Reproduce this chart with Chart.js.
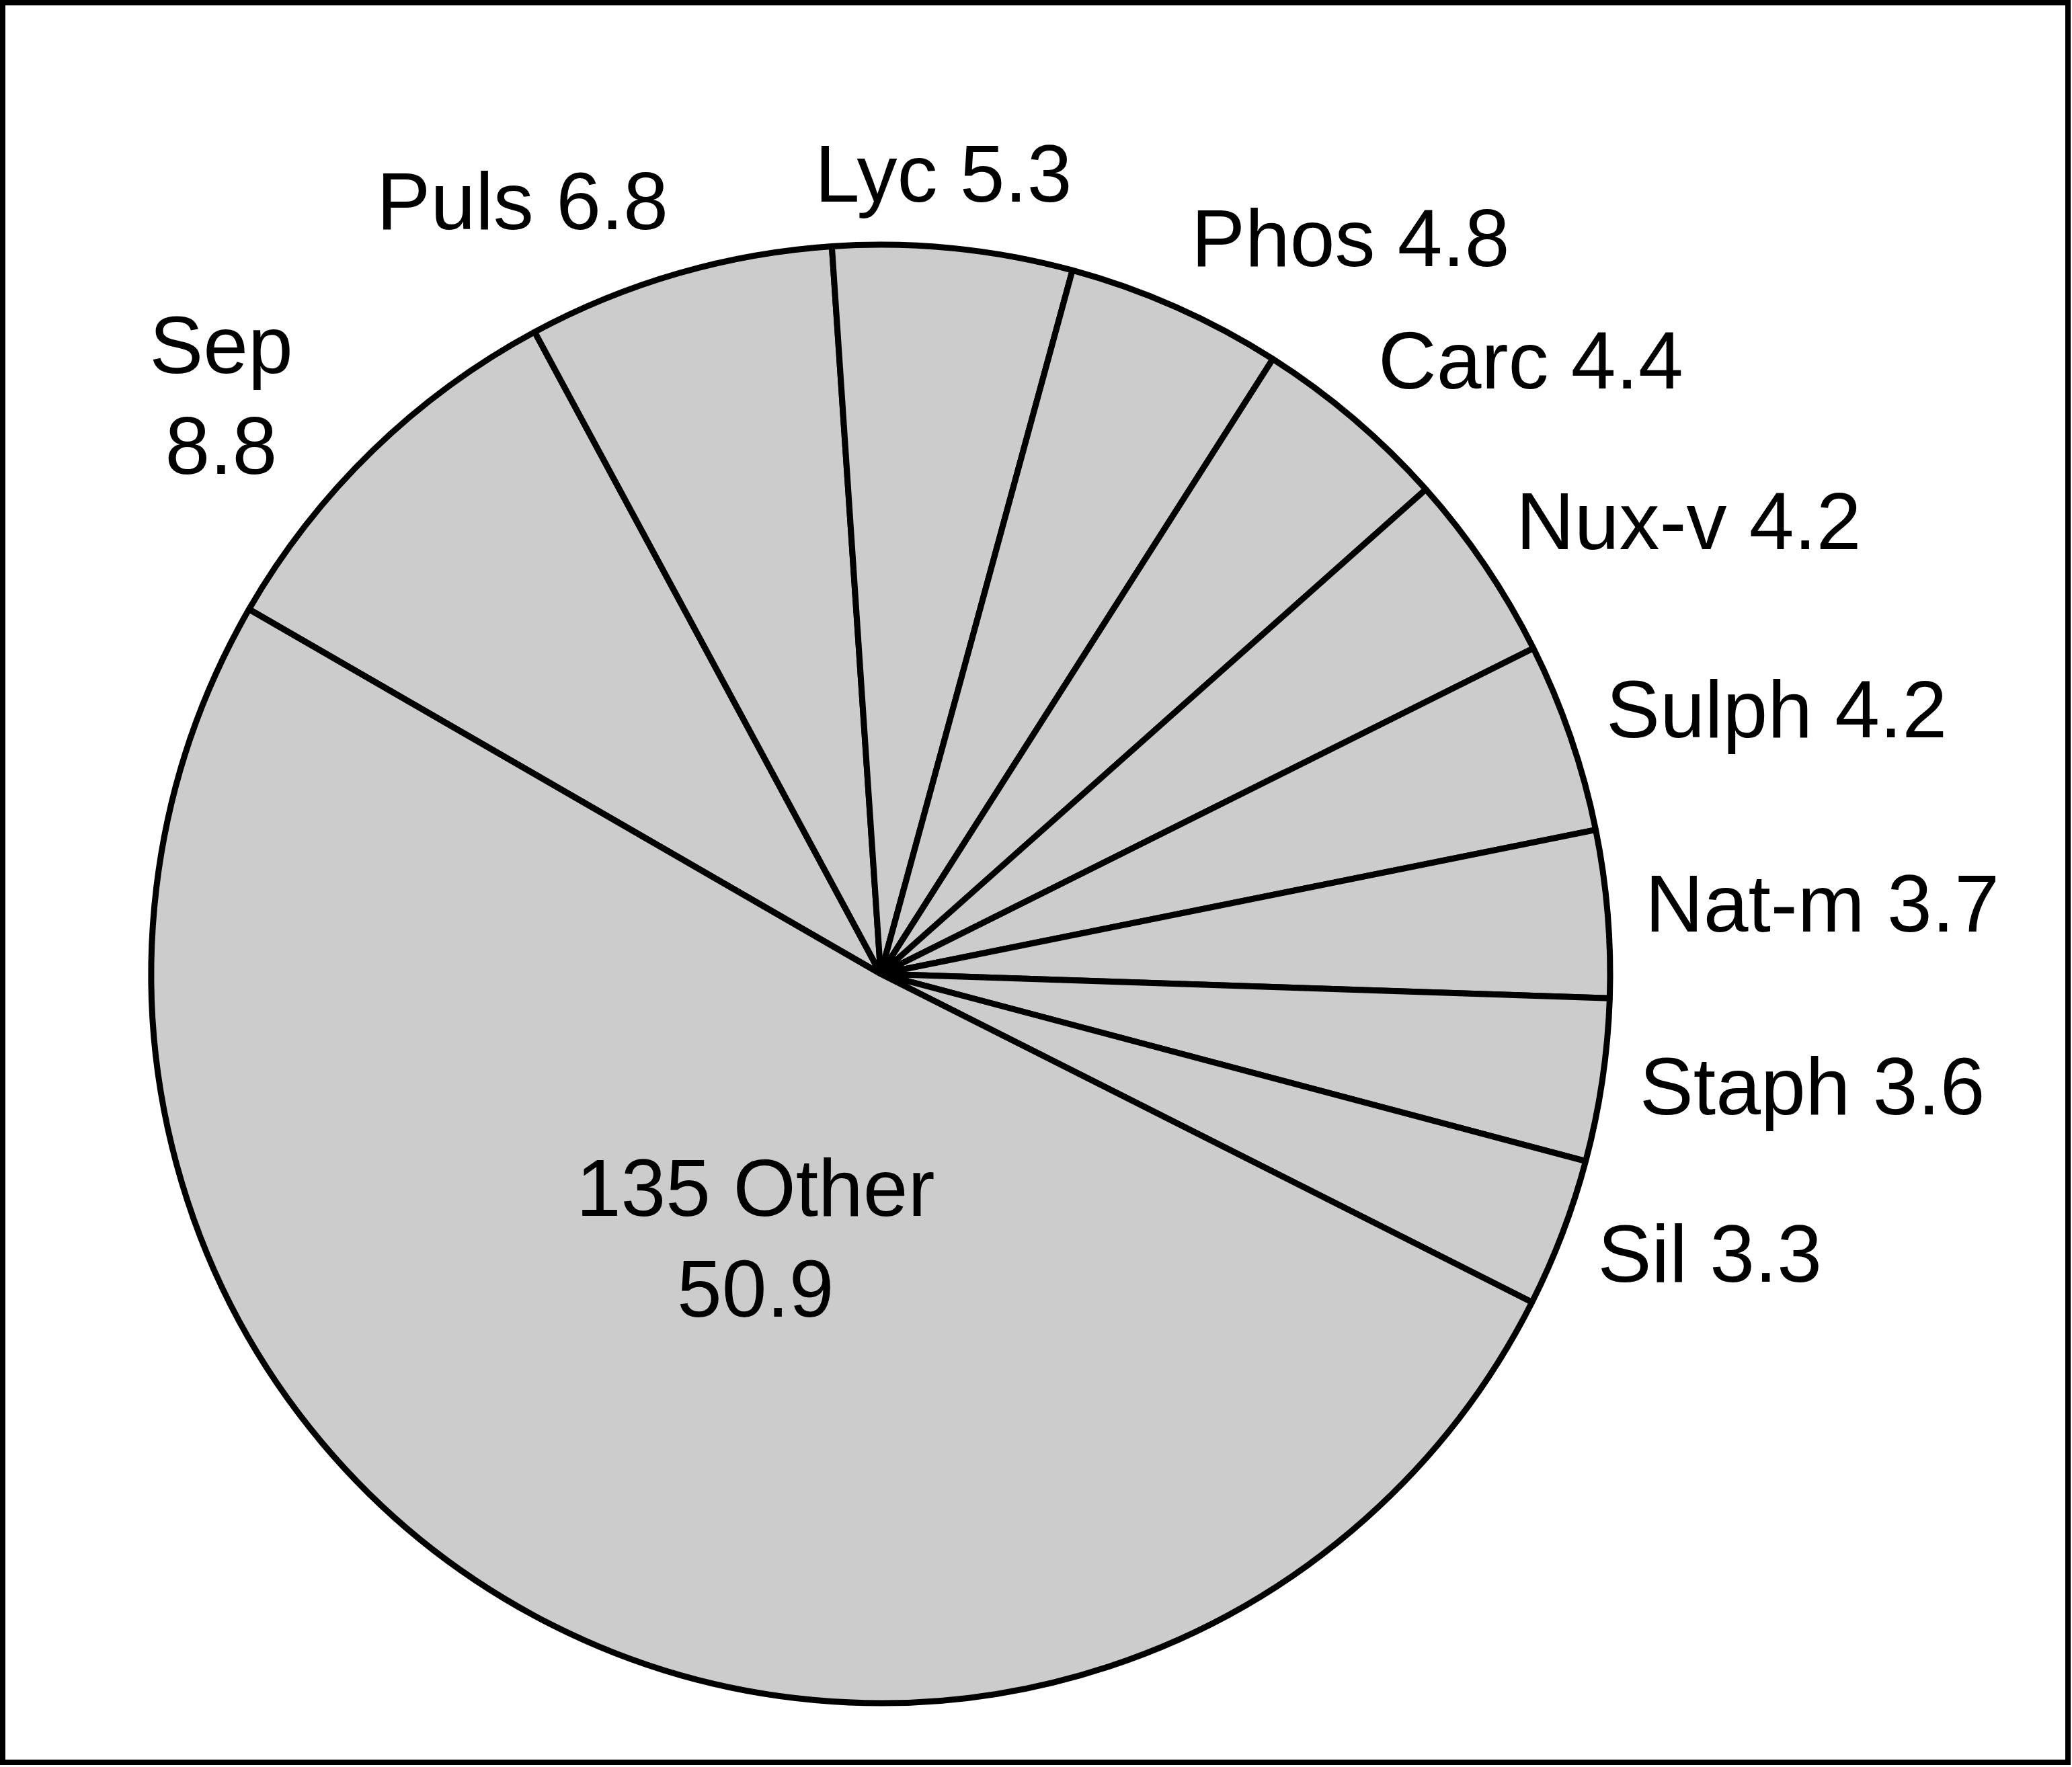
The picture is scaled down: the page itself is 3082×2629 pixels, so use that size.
<!DOCTYPE html>
<html lang="en">
<head>
<meta charset="UTF-8">
<title>Remedy shares</title>
<style>
    html, body { margin: 0; padding: 0; background: #fff; }
    canvas { display: block; }
</style>
</head>
<body>
<canvas id="pie" width="3082" height="2629"></canvas>
<script src="https://cdn.jsdelivr.net/npm/chart.js"></script>
<script>
const remedies = ['Sep', 'Puls', 'Lyc', 'Phos', 'Carc', 'Nux-v', 'Sulph', 'Nat-m', 'Staph', 'Sil', '135 Other'];
const shares = [8.8, 6.8, 5.3, 4.8, 4.4, 4.2, 4.2, 3.7, 3.6, 3.3, 50.9];
const wrapped = ['Sep', '135 Other'];   // labels set on two lines
const inside = ['135 Other'];           // label drawn inside its slice

const FONT_PX = 120;

// slice labels, placed around the pie from each arc's own angles
const sliceLabels = {
    id: 'sliceLabels',
    afterDatasetsDraw(chart) {
        const ctx = chart.ctx;
        const meta = chart.getDatasetMeta(0);
        const cap = FONT_PX * 0.716;
        const lineGap = 150;
        ctx.save();
        ctx.font = FONT_PX + 'px "Liberation Sans", Arial, sans-serif';
        ctx.fillStyle = '#000';
        ctx.textBaseline = 'alphabetic';
        meta.data.forEach((arc, i) => {
            const name = remedies[i];
            const text = name + ' ' + shares[i];
            const lines = wrapped.includes(name) ? [name, String(shares[i])] : [text];
            const mid = (arc.startAngle + arc.endAngle) / 2;
            const c = Math.cos(mid), s = Math.sin(mid);
            let x, y, align;
            if (inside.includes(name)) {
                x = arc.x + c * arc.outerRadius * 0.4 + 20;
                y = arc.y + s * arc.outerRadius * 0.4 + 10;
                align = 'center';
            } else {
                const r = arc.outerRadius + 56;
                x = arc.x + c * r;
                y = arc.y + s * r + s * 49 - 8;
                if (lines.length > 1) {
                    align = 'center';
                    x += Math.sign(c) * ctx.measureText(text).width * 0.45;
                } else {
                    align = c > 0.2 ? 'left' : (c < -0.2 ? 'right' : 'center');
                    if (align === 'center') x -= 20;
                }
            }
            ctx.textAlign = align;
            const top = y - (lines.length - 1) * lineGap / 2;
            lines.forEach((ln, k) => ctx.fillText(ln, x, top + k * lineGap + cap / 2));
        });
        ctx.restore();
    }
};

// outer frame of the figure
const frame = {
    id: 'frame',
    afterDraw(chart) {
        const ctx = chart.ctx;
        ctx.save();
        ctx.strokeStyle = '#000';
        ctx.lineWidth = 8;
        ctx.strokeRect(4, 4, 3072, 2618);
        ctx.restore();
    }
};

new Chart(document.getElementById('pie'), {
    type: 'pie',
    data: {
        labels: remedies,
        datasets: [{
            data: shares,
            backgroundColor: '#cccccc',
            borderColor: '#000',
            borderWidth: 9,
            hoverOffset: 0,
            radius: 1085
        }]
    },
    options: {
        responsive: false,
        devicePixelRatio: 1,
        animation: false,
        rotation: -60,
        layout: { padding: { left: 200, right: 662, top: 350, bottom: 81 } },
        plugins: {
            legend: { display: false },
            tooltip: { enabled: false }
        }
    },
    plugins: [sliceLabels, frame]
});
</script>
</body>
</html>
